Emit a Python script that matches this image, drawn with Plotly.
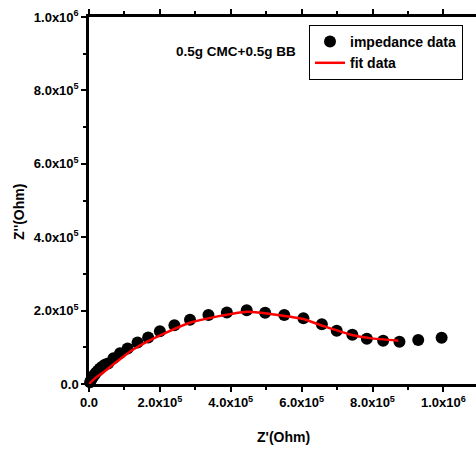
import plotly.graph_objects as go

# impedance data (Ohm)
z_real = [3e3, 6e3, 10e3, 14e3, 19e3, 25e3, 31e3, 38e3, 46e3, 54e3, 69e3, 87.5e3,
          109e3, 137e3, 167e3, 200e3, 241e3, 285e3, 337e3, 389e3, 445e3, 497e3,
          551e3, 605e3, 657e3, 699e3, 743e3, 784e3, 830e3, 876e3, 929e3, 995e3]
z_imag = [5e3, 11e3, 18e3, 24e3, 30e3, 36e3, 42e3, 48e3, 53e3, 56e3, 70e3, 84e3,
          97e3, 113e3, 127e3, 144e3, 160e3, 175e3, 188e3, 195e3, 201e3, 194e3,
          188e3, 179e3, 163e3, 145e3, 134e3, 123e3, 118e3, 115e3, 120e3, 126e3]

# fit data (Ohm)
fit_real = [0, 20e3, 42e3, 80e3, 118e3, 163e3, 285e3, 445e3, 511e3, 604e3, 661e3, 736e3, 793e3, 873e3]
fit_imag = [0, 18e3, 33e3, 62e3, 90e3, 115e3, 167e3, 197e3, 191e3, 177e3, 158e3, 135e3, 125e3, 118e3]

x_tickvals = [0, 2e5, 4e5, 6e5, 8e5, 1e6]
x_ticktext = ["<b>0.0</b>", "<b>2.0x10<sup>5</sup></b>", "<b>4.0x10<sup>5</sup></b>",
              "<b>6.0x10<sup>5</sup></b>", "<b>8.0x10<sup>5</sup></b>", "<b>1.0x10<sup>6</sup></b>"]
y_tickvals = [0, 2e5, 4e5, 6e5, 8e5, 1e6]
y_ticktext = ["<b>0.0</b>", "<b>2.0x10<sup>5</sup></b>", "<b>4.0x10<sup>5</sup></b>",
              "<b>6.0x10<sup>5</sup></b>", "<b>8.0x10<sup>5</sup></b>", "<b>1.0x10<sup>6</sup></b>"]

FONT = "Liberation Sans, Arial, sans-serif"

fig = go.Figure()
fig.add_trace(go.Scatter(x=z_real, y=z_imag, mode="markers", name="<b>impedance data</b>",
                         marker=dict(color="black", size=12, symbol="circle"),
                         cliponaxis=False))
fig.add_trace(go.Scatter(x=fit_real, y=fit_imag, mode="lines", name="<b>fit data</b>",
                         line=dict(color="#ff0000", width=2.5, shape="spline", smoothing=0.6),
                         cliponaxis=False))

axis_common = dict(showgrid=False, zeroline=False, showline=True, linecolor="black",
                   linewidth=2.5, ticks="outside", ticklen=5, tickwidth=2, tickcolor="black",
                   tickfont=dict(family=FONT, size=13, color="black"))

fig.update_xaxes(range=[0, 1.092e6], tickvals=x_tickvals, ticktext=x_ticktext,
                 mirror="ticks",
                 minor=dict(dtick=1e5, tick0=0, ticks="outside", ticklen=3, tickwidth=2,
                            tickcolor="black"),
                 **axis_common)
fig.update_yaxes(range=[0, 1e6], tickvals=y_tickvals, ticktext=y_ticktext,
                 mirror=False,
                 minor=dict(dtick=1e5, tick0=0, ticks="outside", ticklen=3, tickwidth=2,
                            tickcolor="black"),
                 **axis_common)

fig.add_annotation(text="<b>Z'(Ohm)</b>", xref="paper", yref="paper",
                   x=(283 - 89) / 387, y=(384 - 437) / 367, showarrow=False,
                   xanchor="center", yanchor="middle",
                   font=dict(family=FONT, size=14, color="black"))
fig.add_annotation(text="<b>Z''(Ohm)</b>", xref="paper", yref="paper",
                   x=(19 - 89) / 387, y=(384 - 212) / 367, showarrow=False, textangle=-90,
                   xanchor="center", yanchor="middle",
                   font=dict(family=FONT, size=14, color="black"))
fig.add_annotation(text="<b>0.5g CMC+0.5g BB</b>", xref="paper", yref="paper",
                   x=(236 - 89) / 387, y=(384 - 52) / 367, showarrow=False,
                   xanchor="center", yanchor="middle",
                   font=dict(family=FONT, size=13.5, color="black"))

fig.update_layout(
    width=476, height=450,
    margin=dict(l=89, r=0, t=17, b=66),
    paper_bgcolor="white", plot_bgcolor="white",
    showlegend=True,
    legend=dict(x=(309 - 89) / 387, y=(384 - 25) / 367, xanchor="left", yanchor="top",
                bordercolor="black", borderwidth=1, bgcolor="white",
                font=dict(family=FONT, size=14, color="black"),
                tracegroupgap=0, itemwidth=30),
)

fig.write_html("out.html")
